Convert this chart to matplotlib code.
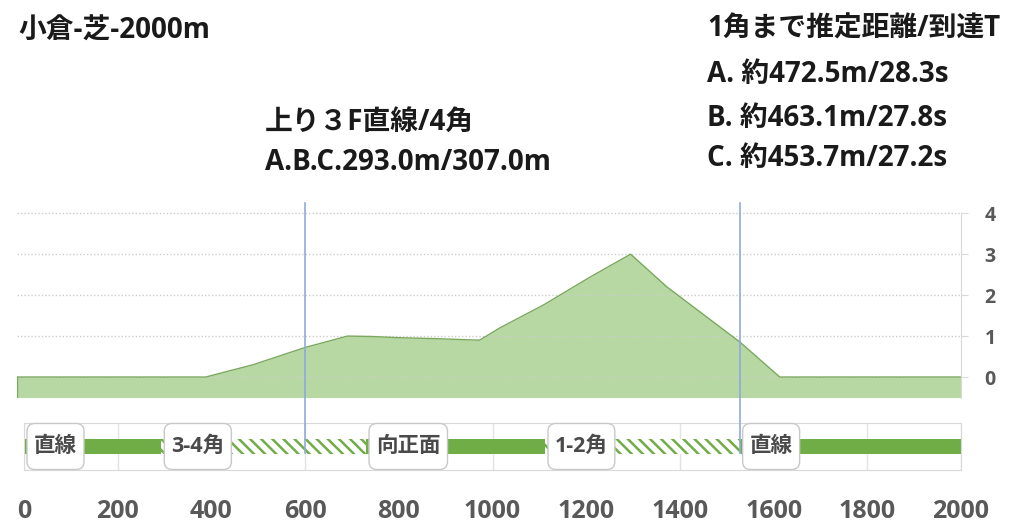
import matplotlib
matplotlib.use("Agg")
import matplotlib.pyplot as plt
from matplotlib.patches import FancyBboxPatch
from matplotlib.transforms import ScaledTranslation

# elevation profile (m along course, height m)
elev_x = [0, 400, 500, 610, 700, 750, 810, 880, 980, 1023, 1114, 1214, 1300, 1377, 1532, 1616, 2000]
elev_y = [0, 0, 0.3, 0.72, 1.0, 0.99, 0.96, 0.94, 0.9, 1.2, 1.75, 2.44, 3.0, 2.2, 0.85, 0, 0]

# course sections
section_names = ["直線", "3-4角", "向正面", "1-2角", "直線"]
section_start = [0, 293, 730, 1112, 1527.5]
section_end = [293, 730, 1112, 1527.5, 2000]
section_curve = [False, True, False, True, False]

marker_x = [600, 1527.5]
x_ticks = list(range(0, 2001, 200))
y_ticks = [0, 1, 2, 3, 4]

title = "小倉-芝-2000m"
mid_lines = ["上り３F直線/4角", "A.B.C.293.0m/307.0m"]
right_lines = ["1角まで推定距離/到達T", "A. 約472.5m/28.3s", "B. 約463.1m/27.8s", "C. 約453.7m/27.2s"]

plt.rcParams["font.family"] = ["Open Sans", "Noto Sans CJK JP", "DejaVu Sans"]
plt.rcParams["hatch.linewidth"] = 1.8

W, H = 1024, 531
fig = plt.figure(figsize=(W / 100, H / 100), dpi=100)

# upper: elevation
ax = fig.add_axes([17 / W, 1 - 397.5 / H, 944 / W, 194.5 / H])
ax.fill_between(elev_x, elev_y, -0.5, color="#b8d8a3", lw=0)
ax.plot(elev_x, elev_y, color="#7aa85c", lw=1)
ax.plot([elev_x[0], elev_x[0]], [-0.5, elev_y[0]], color="#7aa85c", lw=1)
ax.set_xlim(0, 2000)
ax.set_ylim(-0.5, 4.25)
for s in ["top", "left", "bottom"]:
    ax.spines[s].set_visible(False)
ax.spines["right"].set_color("#d9d9d9")
ax.spines["right"].set_bounds(-0.5, 4)
ax.yaxis.tick_right()
ax.set_yticks(y_ticks)
ax.set_xticks([])
ax.tick_params(axis="y", color="#d9d9d9", length=5, pad=12, labelsize=14, labelcolor="#595959")
for lbl in ax.get_yticklabels():
    lbl.set_fontweight("bold")
ax.grid(axis="y", linestyle=(0, (1, 1.5)), color="#cccccc", lw=1)

# lower: course sections
ax2 = fig.add_axes([24 / W, 1 - 470 / H, 937 / W, 47 / H])
ax2.set_xlim(0, 2000)
ax2.set_ylim(0, 1)
ax2.set_yticks([])
ax2.set_xticks(x_ticks)
ax2.grid(axis="x", color="#e3e3e3", lw=1)
ax2.set_axisbelow(True)
for s in ax2.spines.values():
    s.set_color("#d9d9d9")
ax2.tick_params(axis="x", length=0, pad=21, labelsize=18, labelcolor="#595959")
for lbl in ax2.get_xticklabels():
    lbl.set_fontweight("bold")

green = "#70ad47"
for x0, x1, curve in zip(section_start, section_end, section_curve):
    if curve:
        ax2.barh(0.5, x1 - x0, left=x0, height=0.34, facecolor="white",
                 edgecolor=green, hatch="\\\\\\", lw=0)
    else:
        ax2.barh(0.5, x1 - x0, left=x0, height=0.34, color=green, lw=0)

# label boxes spanning the strip height
renderer = fig.canvas.get_renderer()
inv = ax2.transData.inverted()
px_x = 2000 / 937            # data units per pixel (x)
px_y = 1 / 47                # data units per pixel (y)
pad_px, off_px, rad_px = 7, 3, 8
for name, x0 in zip(section_names, section_start):
    shift = ScaledTranslation((off_px + pad_px) / 100, 0, fig.dpi_scale_trans)
    t = ax2.text(x0, 0.5, name, ha="left", va="center", fontsize=15.5, fontweight="bold",
                 color="#4a4a4a", zorder=5, transform=ax2.transData + shift)
    bb = t.get_window_extent(renderer)
    bx0 = inv.transform((bb.x0, 0))[0]
    bx1 = inv.transform((bb.x1, 0))[0]
    box = FancyBboxPatch((bx0 - pad_px * px_x, 0.01), bx1 - bx0 + 2 * pad_px * px_x, 0.98,
                         boxstyle=f"round,pad=0,rounding_size={rad_px * px_x}",
                         mutation_aspect=px_y / px_x, fc="white", ec="#c8c8c8",
                         lw=1, zorder=4, clip_on=False)
    ax2.add_patch(box)

for mx in marker_x:
    ax2.axvline(mx, ymin=(470 - 453) / 47, ymax=(470 - 203) / 47, color="#8faadc",
                lw=1.2, clip_on=False, zorder=6)

# texts
txt = dict(fontsize=20, fontweight="bold", va="center", color="#1a1a1a")
fig.text(18 / W, 1 - 31 / H, title, **txt)
for line, yc in zip(mid_lines, [122, 163]):
    fig.text(265 / W, 1 - yc / H, line, **txt)
for line, yc in zip(right_lines, [29, 75, 119, 159]):
    fig.text(707 / W, 1 - yc / H, line, **txt)

fig.savefig("out.png", dpi=100)
